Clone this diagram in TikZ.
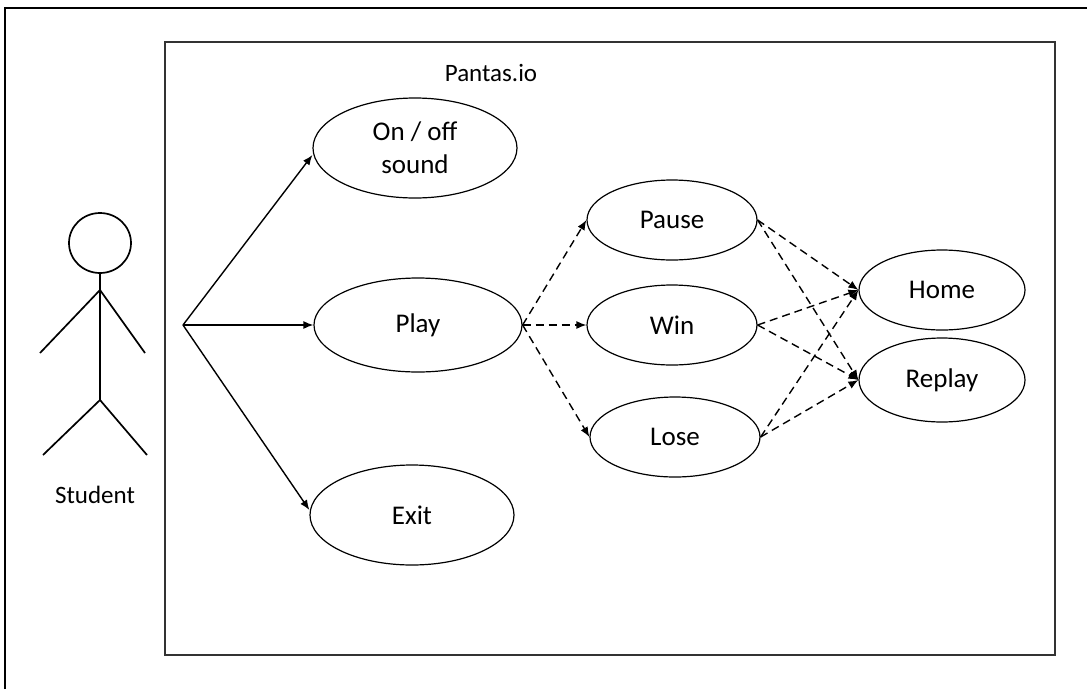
\documentclass[tikz,border=0pt]{standalone}
\usepackage{fontspec}
\setmainfont{Carlito}
\usetikzlibrary{arrows.meta,shapes.geometric}
\begin{document}
\begin{tikzpicture}[x=1pt,y=-1pt,
  usecase/.style={draw, line width=1.2pt, ellipse, inner sep=0pt, font=\fontsize{27}{33}\selectfont, align=center},
  solidarrow/.style={line width=1.4pt, -{Latex[length=10pt,width=8pt]}},
  dasharrow/.style={line width=1.4pt, dash pattern=on 8pt off 5pt, -{Latex[length=10pt,width=8pt]}},
  limb/.style={line width=1.7pt}]
\useasboundingbox (0,0) rectangle (1087,689);
\fill[white] (0,0) rectangle (1087,689);
% outer frame (partly cropped)
\draw[line width=1.4pt] (5,689) -- (5,8) -- (1087,8);
% system boundary
\draw[line width=1.2pt, draw=black!80] (165,42) rectangle (1055,655);
\node[font=\fontsize{25}{30}\selectfont] (title) at (491,73) {Pantas.io};
% actor
\draw[limb] (100,243) ellipse (31 and 30);
\coordinate (neck) at (100,273);
\coordinate (shoulder) at (100,290);
\coordinate (hip) at (100,400);
\coordinate (lhand) at (40,353);
\coordinate (rhand) at (145,353);
\coordinate (lfoot) at (43,455);
\coordinate (rfoot) at (147,455);
\draw[limb] (neck) -- (hip);
\draw[limb] (lhand) -- (shoulder) -- (rhand);
\draw[limb] (lfoot) -- (hip) -- (rfoot);
\node[font=\fontsize{25}{30}\selectfont] (student) at (95,495) {Student};
\coordinate (actor) at (183,325);
% use cases
\node[usecase, minimum width=204pt, minimum height=100pt] (sound) at (415,148) {On / off\\sound};
\node[usecase, minimum width=208pt, minimum height=94pt] (play) at (418,325) {Play};
\node[usecase, minimum width=204pt, minimum height=100pt] (exit) at (412,515) {Exit};
\node[usecase, minimum width=170pt, minimum height=80pt] (pause) at (672,220) {Pause};
\node[usecase, minimum width=170pt, minimum height=80pt] (win) at (672,325) {Win};
\node[usecase, minimum width=170pt, minimum height=80pt] (lose) at (675,437) {Lose};
\node[usecase, minimum width=166pt, minimum height=80pt] (home) at (942,290) {Home};
\node[usecase, minimum width=166pt, minimum height=84pt] (replay) at (942,380) {Replay};
% actor associations
\draw[solidarrow] (actor) -- (sound.west |- 0,155);
\draw[solidarrow] (actor) -- (play.west);
\draw[solidarrow] (actor) -- (exit.west |- 0,510);
% play to outcomes
\draw[dasharrow] (play.east) -- (pause.west);
\draw[dasharrow] (play.east) -- (win.west);
\draw[dasharrow] (play.east) -- (lose.west);
% outcomes to home/replay
\draw[dasharrow] (pause.east) -- (home.west);
\draw[dasharrow] (pause.east) -- (replay.west);
\draw[dasharrow] (win.east) -- (home.west);
\draw[dasharrow] (win.east) -- (replay.west);
\draw[dasharrow] (lose.east) -- (home.west);
\draw[dasharrow] (lose.east) -- (replay.west);
\end{tikzpicture}
\end{document}
